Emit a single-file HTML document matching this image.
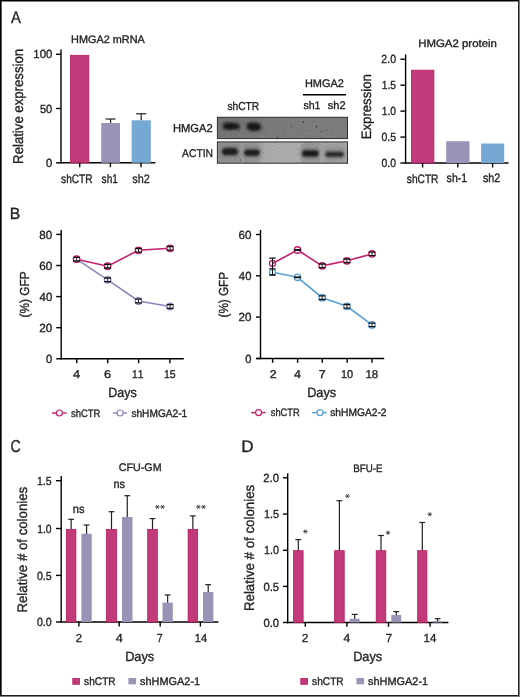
<!DOCTYPE html>
<html><head><meta charset="utf-8"><style>
html,body{margin:0;padding:0;background:#fff;}
svg{display:block;will-change:transform;}
text{font-family:"Liberation Sans",sans-serif;font-kerning:none;text-rendering:geometricPrecision;}
</style></head><body>
<svg width="520" height="697" viewBox="0 0 520 697">
<rect width="520" height="697" fill="#fff"/>
<text x="10.97" y="23.10" font-size="16.86" textLength="9.86" lengthAdjust="spacingAndGlyphs" fill="#231f20" stroke="#231f20" stroke-width="0.35">A</text>
<text x="71.11" y="42.50" font-size="10.90" textLength="73.71" lengthAdjust="spacingAndGlyphs" fill="#231f20" stroke="#231f20" stroke-width="0.35">HMGA2 mRNA</text>
<line x1="61.00" y1="49.60" x2="61.00" y2="163.50" stroke="#000" stroke-width="1.4"/>
<line x1="60.30" y1="162.80" x2="155.40" y2="162.80" stroke="#000" stroke-width="1.4"/>
<line x1="56.00" y1="54.30" x2="61.00" y2="54.30" stroke="#000" stroke-width="1.4"/>
<text x="33.33" y="58.40" font-size="11.77" textLength="19.01" lengthAdjust="spacingAndGlyphs" fill="#231f20" stroke="#231f20" stroke-width="0.35">100</text>
<line x1="56.00" y1="108.50" x2="61.00" y2="108.50" stroke="#000" stroke-width="1.4"/>
<text x="39.95" y="112.60" font-size="11.77" textLength="12.38" lengthAdjust="spacingAndGlyphs" fill="#231f20" stroke="#231f20" stroke-width="0.35">50</text>
<line x1="56.00" y1="162.80" x2="61.00" y2="162.80" stroke="#000" stroke-width="1.4"/>
<text x="46.12" y="166.90" font-size="11.77" textLength="6.22" lengthAdjust="spacingAndGlyphs" fill="#231f20" stroke="#231f20" stroke-width="0.35">0</text>
<rect x="70.40" y="55.30" width="18.40" height="107.50" fill="#c13a7a" stroke="#b8185f" stroke-width="0.8"/>
<rect x="101.20" y="123.00" width="18.80" height="39.80" fill="#9b93b6"/>
<rect x="131.60" y="120.30" width="19.20" height="42.50" fill="#75a8d2"/>
<line x1="110.60" y1="119.00" x2="110.60" y2="123.00" stroke="#231f20" stroke-width="1.2"/>
<line x1="105.65" y1="119.00" x2="115.55" y2="119.00" stroke="#231f20" stroke-width="1.2"/>
<line x1="141.20" y1="113.80" x2="141.20" y2="120.30" stroke="#231f20" stroke-width="1.2"/>
<line x1="136.15" y1="113.80" x2="146.25" y2="113.80" stroke="#231f20" stroke-width="1.2"/>
<line x1="79.70" y1="162.80" x2="79.70" y2="167.20" stroke="#000" stroke-width="1.4"/>
<line x1="110.40" y1="162.80" x2="110.40" y2="167.20" stroke="#000" stroke-width="1.4"/>
<line x1="141.00" y1="162.80" x2="141.00" y2="167.20" stroke="#000" stroke-width="1.4"/>
<text x="61.12" y="182.80" font-size="12.35" textLength="31.45" lengthAdjust="spacingAndGlyphs" fill="#231f20" stroke="#231f20" stroke-width="0.35">shCTR</text>
<text x="101.62" y="182.70" font-size="12.35" textLength="16.38" lengthAdjust="spacingAndGlyphs" fill="#231f20" stroke="#231f20" stroke-width="0.35">sh1</text>
<text x="132.30" y="182.70" font-size="12.35" textLength="17.45" lengthAdjust="spacingAndGlyphs" fill="#231f20" stroke="#231f20" stroke-width="0.35">sh2</text>
<text transform="translate(22.80,162.80) rotate(-90)" x="-1.08" y="0.00" font-size="14.24" textLength="114.94" lengthAdjust="spacingAndGlyphs" fill="#231f20" stroke="#231f20" stroke-width="0.35">Relative expression</text>
<defs>
<filter id="bl1" x="-50%" y="-50%" width="200%" height="200%"><feGaussianBlur stdDeviation="0.9"/></filter>
<filter id="bl4" x="-50%" y="-50%" width="200%" height="200%"><feGaussianBlur stdDeviation="1.6"/></filter>
<filter id="bl2" x="-50%" y="-50%" width="200%" height="200%"><feGaussianBlur stdDeviation="2.2"/></filter>
<filter id="bl3" x="-50%" y="-50%" width="200%" height="200%"><feGaussianBlur stdDeviation="0.5"/></filter>
<filter id="noise" x="0" y="0" width="100%" height="100%"><feTurbulence type="fractalNoise" baseFrequency="0.9" numOctaves="2" seed="3"/><feColorMatrix type="matrix" values="0 0 0 0 0  0 0 0 0 0  0 0 0 0 0  0 0 0 -1.2 0.75"/></filter>
<clipPath id="cup"><rect x="217.4" y="117.3" width="130.1" height="21.3"/></clipPath>
<clipPath id="clo"><rect x="217.4" y="141.9" width="130.1" height="21.3"/></clipPath>
<linearGradient id="upbg" x1="0" x2="1" y1="0" y2="0">
<stop offset="0" stop-color="#7a7a7a"/><stop offset="0.4" stop-color="#7e7e7e"/><stop offset="1" stop-color="#808080"/>
</linearGradient>
<linearGradient id="lowbg" x1="0" x2="1" y1="0" y2="0">
<stop offset="0" stop-color="#979797"/><stop offset="0.17" stop-color="#9a9a9a"/><stop offset="0.19" stop-color="#a2a2a2"/><stop offset="0.215" stop-color="#9a9a9a"/><stop offset="0.30" stop-color="#9c9c9c"/><stop offset="0.35" stop-color="#afafaf"/><stop offset="0.63" stop-color="#b1b1b1"/><stop offset="0.66" stop-color="#a0a0a0"/><stop offset="0.78" stop-color="#a2a2a2"/><stop offset="0.805" stop-color="#afafaf"/><stop offset="0.84" stop-color="#a8a8a8"/><stop offset="1" stop-color="#aaaaaa"/>
</linearGradient>
</defs>
<rect x="217.4" y="117.3" width="130.1" height="21.3" fill="url(#upbg)"/>
<rect x="217.4" y="141.9" width="130.1" height="21.3" fill="url(#lowbg)"/>
<g clip-path="url(#cup)"><g filter="url(#bl2)" fill="#6a6a6a" opacity="0.5">
<rect x="221" y="120" width="20" height="11"/><rect x="245" y="120" width="17" height="12"/>
</g></g>
<g clip-path="url(#clo)"><g filter="url(#bl2)" fill="#7a7a7a" opacity="0.45">
<rect x="220" y="145" width="19" height="14"/><rect x="243" y="146" width="18" height="13"/><rect x="301" y="146" width="19" height="14"/><rect x="324" y="147" width="21" height="13"/>
</g></g>
<rect x="217.4" y="117.3" width="130.1" height="21.3" filter="url(#noise)" opacity="0.2"/>
<rect x="217.4" y="141.9" width="130.1" height="21.3" filter="url(#noise)" opacity="0.2"/>
<rect x="217.4" y="117.3" width="130.1" height="21.3" fill="none" stroke="#2e2e2e" stroke-width="1"/>
<rect x="217.4" y="141.9" width="130.1" height="21.3" fill="none" stroke="#2e2e2e" stroke-width="1"/>
<g filter="url(#bl4)" opacity="0.55">
<rect x="222" y="122.5" width="18" height="7.5" rx="3.5" fill="#333"/>
<rect x="246.5" y="122.5" width="15" height="8.5" rx="4" fill="#333"/>
<rect x="221.5" y="147.5" width="17" height="8" rx="3.5" fill="#444"/>
<rect x="243.8" y="149" width="16.5" height="7" rx="3.5" fill="#444"/>
<rect x="301.5" y="149.8" width="17.5" height="7.4" rx="3.5" fill="#444"/>
<rect x="325" y="151.2" width="19" height="6" rx="3" fill="#555"/>
</g>
<g filter="url(#bl1)">
<path d="M223.6 126.2 C223.6 122.6 229 123.0 233 123.4 C237.5 123.8 239.3 125 239.3 126.6 C239.3 128.5 236 129.3 231 129.2 C226 129.1 223.6 128.5 223.6 126.2Z" fill="#131313"/>
<path d="M247.2 126 C247.2 122.8 252 122.7 255 123.2 C258.8 123.8 260.5 125.4 260.5 127.1 C260.5 129.6 257 130.8 253.5 130.4 C249.5 130 247.2 128.6 247.2 126Z" fill="#131313"/>
<rect x="222.4" y="148.4" width="15.0" height="6.4" rx="3" fill="#1a1a1a"/>
<rect x="244.6" y="150.0" width="14.7" height="5.4" rx="2.6" fill="#1a1a1a"/>
<rect x="302.4" y="150.8" width="15.8" height="5.4" rx="2.6" fill="#181818"/>
<rect x="325.8" y="152.2" width="17.6" height="4.2" rx="2" fill="#262626"/>
</g>
<g filter="url(#bl3)" fill="#222">
<circle cx="303.3" cy="121.9" r="0.7"/>
<circle cx="316.5" cy="126.5" r="0.65"/>
<circle cx="320.2" cy="131.2" r="0.45"/>
<circle cx="326.7" cy="130.2" r="0.45"/>
<circle cx="291.6" cy="126.3" r="0.45"/>
<circle cx="321.7" cy="138.2" r="0.55"/>
<circle cx="238.8" cy="130.6" r="0.5"/>
<circle cx="263.1" cy="128.1" r="0.35"/>
<circle cx="283.5" cy="129.8" r="0.45"/>
<circle cx="277.5" cy="137.9" r="0.6"/>
<circle cx="240.3" cy="160.0" r="0.6"/>
<circle cx="227" cy="130.5" r="0.4"/>
</g>
<text x="172.98" y="131.90" font-size="11.48" textLength="39.78" lengthAdjust="spacingAndGlyphs" fill="#231f20" stroke="#231f20" stroke-width="0.35">HMGA2</text>
<text x="182.08" y="156.80" font-size="11.34" textLength="30.96" lengthAdjust="spacingAndGlyphs" fill="#231f20" stroke="#231f20" stroke-width="0.35">ACTIN</text>
<text x="227.52" y="109.80" font-size="11.48" textLength="31.55" lengthAdjust="spacingAndGlyphs" fill="#231f20" stroke="#231f20" stroke-width="0.35">shCTR</text>
<text x="304.90" y="87.00" font-size="11.05" textLength="38.95" lengthAdjust="spacingAndGlyphs" fill="#231f20" stroke="#231f20" stroke-width="0.35">HMGA2</text>
<line x1="302.90" y1="94.80" x2="346.00" y2="94.80" stroke="#000" stroke-width="1.5"/>
<text x="303.40" y="109.10" font-size="11.05" textLength="17.11" lengthAdjust="spacingAndGlyphs" fill="#231f20" stroke="#231f20" stroke-width="0.35">sh1</text>
<text x="327.79" y="109.10" font-size="11.05" textLength="17.97" lengthAdjust="spacingAndGlyphs" fill="#231f20" stroke="#231f20" stroke-width="0.35">sh2</text>
<text x="418.16" y="47.00" font-size="10.76" textLength="78.78" lengthAdjust="spacingAndGlyphs" fill="#231f20" stroke="#231f20" stroke-width="0.35">HMGA2 protein</text>
<line x1="405.60" y1="54.40" x2="405.60" y2="163.70" stroke="#000" stroke-width="1.4"/>
<line x1="404.90" y1="163.00" x2="508.50" y2="163.00" stroke="#000" stroke-width="1.4"/>
<line x1="400.40" y1="59.20" x2="405.60" y2="59.20" stroke="#000" stroke-width="1.4"/>
<text x="381.37" y="63.30" font-size="11.77" textLength="14.64" lengthAdjust="spacingAndGlyphs" fill="#231f20" stroke="#231f20" stroke-width="0.35">2.0</text>
<line x1="400.40" y1="85.20" x2="405.60" y2="85.20" stroke="#000" stroke-width="1.4"/>
<text x="381.82" y="89.30" font-size="11.77" textLength="14.21" lengthAdjust="spacingAndGlyphs" fill="#231f20" stroke="#231f20" stroke-width="0.35">1.5</text>
<line x1="400.40" y1="111.10" x2="405.60" y2="111.10" stroke="#000" stroke-width="1.4"/>
<text x="381.82" y="115.20" font-size="11.77" textLength="14.18" lengthAdjust="spacingAndGlyphs" fill="#231f20" stroke="#231f20" stroke-width="0.35">1.0</text>
<line x1="400.40" y1="137.10" x2="405.60" y2="137.10" stroke="#000" stroke-width="1.4"/>
<text x="381.49" y="141.20" font-size="11.77" textLength="14.55" lengthAdjust="spacingAndGlyphs" fill="#231f20" stroke="#231f20" stroke-width="0.35">0.5</text>
<line x1="400.40" y1="163.00" x2="405.60" y2="163.00" stroke="#000" stroke-width="1.4"/>
<text x="381.49" y="167.10" font-size="11.77" textLength="14.52" lengthAdjust="spacingAndGlyphs" fill="#231f20" stroke="#231f20" stroke-width="0.35">0.0</text>
<rect x="411.40" y="70.20" width="22.50" height="92.80" fill="#c13a7a" stroke="#b8185f" stroke-width="0.8"/>
<rect x="446.20" y="141.20" width="23.30" height="21.80" fill="#9b93b6"/>
<rect x="481.10" y="143.50" width="23.10" height="19.50" fill="#75a8d2"/>
<line x1="422.60" y1="163.00" x2="422.60" y2="167.50" stroke="#000" stroke-width="1.4"/>
<line x1="457.80" y1="163.00" x2="457.80" y2="167.50" stroke="#000" stroke-width="1.4"/>
<line x1="492.60" y1="163.00" x2="492.60" y2="167.50" stroke="#000" stroke-width="1.4"/>
<text x="406.82" y="182.60" font-size="12.21" textLength="31.66" lengthAdjust="spacingAndGlyphs" fill="#231f20" stroke="#231f20" stroke-width="0.35">shCTR</text>
<text x="446.61" y="182.40" font-size="12.21" textLength="20.51" lengthAdjust="spacingAndGlyphs" fill="#231f20" stroke="#231f20" stroke-width="0.35">sh-1</text>
<text x="482.90" y="182.40" font-size="12.21" textLength="17.45" lengthAdjust="spacingAndGlyphs" fill="#231f20" stroke="#231f20" stroke-width="0.35">sh2</text>
<text transform="translate(370.70,138.20) rotate(-90)" x="-1.08" y="0.00" font-size="13.66" textLength="65.14" lengthAdjust="spacingAndGlyphs" fill="#231f20" stroke="#231f20" stroke-width="0.35">Expression</text>
<text x="9.81" y="218.90" font-size="16.28" textLength="10.53" lengthAdjust="spacingAndGlyphs" fill="#231f20" stroke="#231f20" stroke-width="0.35">B</text>
<line x1="61.20" y1="229.90" x2="61.20" y2="359.50" stroke="#000" stroke-width="1.4"/>
<line x1="60.50" y1="358.80" x2="183.80" y2="358.80" stroke="#000" stroke-width="1.4"/>
<line x1="56.20" y1="234.40" x2="61.20" y2="234.40" stroke="#000" stroke-width="1.4"/>
<text x="39.29" y="238.50" font-size="11.77" textLength="12.96" lengthAdjust="spacingAndGlyphs" fill="#231f20" stroke="#231f20" stroke-width="0.35">80</text>
<line x1="56.20" y1="265.50" x2="61.20" y2="265.50" stroke="#000" stroke-width="1.4"/>
<text x="39.20" y="269.60" font-size="11.77" textLength="13.05" lengthAdjust="spacingAndGlyphs" fill="#231f20" stroke="#231f20" stroke-width="0.35">60</text>
<line x1="56.20" y1="296.60" x2="61.20" y2="296.60" stroke="#000" stroke-width="1.4"/>
<text x="39.54" y="300.70" font-size="11.77" textLength="12.71" lengthAdjust="spacingAndGlyphs" fill="#231f20" stroke="#231f20" stroke-width="0.35">40</text>
<line x1="56.20" y1="327.70" x2="61.20" y2="327.70" stroke="#000" stroke-width="1.4"/>
<text x="39.21" y="331.80" font-size="11.77" textLength="13.05" lengthAdjust="spacingAndGlyphs" fill="#231f20" stroke="#231f20" stroke-width="0.35">20</text>
<line x1="56.20" y1="358.80" x2="61.20" y2="358.80" stroke="#000" stroke-width="1.4"/>
<text x="46.02" y="362.90" font-size="11.77" textLength="6.22" lengthAdjust="spacingAndGlyphs" fill="#231f20" stroke="#231f20" stroke-width="0.35">0</text>
<line x1="76.70" y1="358.80" x2="76.70" y2="363.20" stroke="#000" stroke-width="1.4"/>
<text x="73.00" y="377.90" font-size="11.34" textLength="7.17" lengthAdjust="spacingAndGlyphs" fill="#231f20" stroke="#231f20" stroke-width="0.35">4</text>
<line x1="107.70" y1="358.80" x2="107.70" y2="363.20" stroke="#000" stroke-width="1.4"/>
<text x="103.90" y="377.90" font-size="11.34" textLength="7.11" lengthAdjust="spacingAndGlyphs" fill="#231f20" stroke="#231f20" stroke-width="0.35">6</text>
<line x1="138.60" y1="358.80" x2="138.60" y2="363.20" stroke="#000" stroke-width="1.4"/>
<text x="132.12" y="377.90" font-size="11.34" textLength="11.38" lengthAdjust="spacingAndGlyphs" fill="#231f20" stroke="#231f20" stroke-width="0.35">11</text>
<line x1="169.90" y1="358.80" x2="169.90" y2="363.20" stroke="#000" stroke-width="1.4"/>
<text x="164.00" y="377.90" font-size="11.34" textLength="11.64" lengthAdjust="spacingAndGlyphs" fill="#231f20" stroke="#231f20" stroke-width="0.35">15</text>
<text x="108.17" y="397.40" font-size="13.37" textLength="28.58" lengthAdjust="spacingAndGlyphs" fill="#231f20" stroke="#231f20" stroke-width="0.35">Days</text>
<text transform="translate(28.70,316.80) rotate(-90)" x="-0.74" y="0.00" font-size="13.08" textLength="46.16" lengthAdjust="spacingAndGlyphs" fill="#231f20" stroke="#231f20" stroke-width="0.35">(%) GFP</text>
<polyline points="76.6,259.2 107.6,279.8 138.5,301.0 170.1,306.5" fill="none" stroke="#8d85bd" stroke-width="1.6"/>
<polyline points="76.6,259.2 107.6,266.2 138.5,250.3 170.1,248.3" fill="none" stroke="#c41f6d" stroke-width="1.6"/>
<circle cx="107.60" cy="279.80" r="3.2" fill="#fff" stroke="#8d85bd" stroke-width="1.4"/>
<path d="M104.20 278.00H111.00M104.20 281.60H111.00" stroke="#111" stroke-width="1.3" fill="none"/>
<path d="M107.60 278.00V281.60" stroke="#222" stroke-width="1.0" fill="none"/>
<circle cx="138.50" cy="301.00" r="3.2" fill="#fff" stroke="#8d85bd" stroke-width="1.4"/>
<path d="M135.10 299.20H141.90M135.10 302.80H141.90" stroke="#111" stroke-width="1.3" fill="none"/>
<path d="M138.50 299.20V302.80" stroke="#222" stroke-width="1.0" fill="none"/>
<circle cx="170.10" cy="306.50" r="3.2" fill="#fff" stroke="#8d85bd" stroke-width="1.4"/>
<path d="M166.70 304.70H173.50M166.70 308.30H173.50" stroke="#111" stroke-width="1.3" fill="none"/>
<path d="M170.10 304.70V308.30" stroke="#222" stroke-width="1.0" fill="none"/>
<circle cx="76.60" cy="259.20" r="3.2" fill="#fff" stroke="#c41f6d" stroke-width="1.4"/>
<path d="M73.20 257.40H80.00M73.20 261.00H80.00" stroke="#111" stroke-width="1.3" fill="none"/>
<path d="M76.60 257.40V261.00" stroke="#222" stroke-width="1.0" fill="none"/>
<circle cx="107.60" cy="266.20" r="3.2" fill="#fff" stroke="#c41f6d" stroke-width="1.4"/>
<path d="M104.20 264.40H111.00M104.20 268.00H111.00" stroke="#111" stroke-width="1.3" fill="none"/>
<path d="M107.60 264.40V268.00" stroke="#222" stroke-width="1.0" fill="none"/>
<circle cx="138.50" cy="250.30" r="3.2" fill="#fff" stroke="#c41f6d" stroke-width="1.4"/>
<path d="M135.10 248.50H141.90M135.10 252.10H141.90" stroke="#111" stroke-width="1.3" fill="none"/>
<path d="M138.50 248.50V252.10" stroke="#222" stroke-width="1.0" fill="none"/>
<circle cx="170.10" cy="248.30" r="3.2" fill="#fff" stroke="#c41f6d" stroke-width="1.4"/>
<path d="M166.70 246.50H173.50M166.70 250.10H173.50" stroke="#111" stroke-width="1.3" fill="none"/>
<path d="M170.10 246.50V250.10" stroke="#222" stroke-width="1.0" fill="none"/>
<line x1="51.90" y1="413.00" x2="66.60" y2="413.00" stroke="#c41f6d" stroke-width="1.45"/>
<circle cx="59.4" cy="413.0" r="3.0" fill="#fff" stroke="#c41f6d" stroke-width="1.2"/>
<text x="71.04" y="416.80" font-size="10.76" textLength="29.40" lengthAdjust="spacingAndGlyphs" fill="#231f20" stroke="#231f20" stroke-width="0.35">shCTR</text>
<line x1="112.80" y1="413.00" x2="127.10" y2="413.00" stroke="#8d85bd" stroke-width="1.45"/>
<circle cx="120.1" cy="413.0" r="3.0" fill="#fff" stroke="#8d85bd" stroke-width="1.2"/>
<text x="131.42" y="416.80" font-size="10.76" textLength="55.78" lengthAdjust="spacingAndGlyphs" fill="#231f20" stroke="#231f20" stroke-width="0.35">shHMGA2-1</text>
<line x1="260.50" y1="229.90" x2="260.50" y2="359.20" stroke="#000" stroke-width="1.4"/>
<line x1="256.00" y1="358.50" x2="384.20" y2="358.50" stroke="#000" stroke-width="1.4"/>
<line x1="256.00" y1="234.50" x2="260.50" y2="234.50" stroke="#000" stroke-width="1.4"/>
<text x="238.51" y="238.60" font-size="11.77" textLength="12.95" lengthAdjust="spacingAndGlyphs" fill="#231f20" stroke="#231f20" stroke-width="0.35">60</text>
<line x1="256.00" y1="275.80" x2="260.50" y2="275.80" stroke="#000" stroke-width="1.4"/>
<text x="238.84" y="279.90" font-size="11.77" textLength="12.60" lengthAdjust="spacingAndGlyphs" fill="#231f20" stroke="#231f20" stroke-width="0.35">40</text>
<line x1="256.00" y1="317.10" x2="260.50" y2="317.10" stroke="#000" stroke-width="1.4"/>
<text x="238.51" y="321.20" font-size="11.77" textLength="12.94" lengthAdjust="spacingAndGlyphs" fill="#231f20" stroke="#231f20" stroke-width="0.35">20</text>
<line x1="256.00" y1="358.50" x2="260.50" y2="358.50" stroke="#000" stroke-width="1.4"/>
<text x="245.22" y="362.60" font-size="11.77" textLength="6.22" lengthAdjust="spacingAndGlyphs" fill="#231f20" stroke="#231f20" stroke-width="0.35">0</text>
<line x1="272.60" y1="358.50" x2="272.60" y2="362.80" stroke="#000" stroke-width="1.4"/>
<text x="269.87" y="378.00" font-size="11.34" textLength="6.96" lengthAdjust="spacingAndGlyphs" fill="#231f20" stroke="#231f20" stroke-width="0.35">2</text>
<line x1="297.60" y1="358.50" x2="297.60" y2="362.80" stroke="#000" stroke-width="1.4"/>
<text x="294.01" y="378.00" font-size="11.34" textLength="6.95" lengthAdjust="spacingAndGlyphs" fill="#231f20" stroke="#231f20" stroke-width="0.35">4</text>
<line x1="322.30" y1="358.50" x2="322.30" y2="362.80" stroke="#000" stroke-width="1.4"/>
<text x="318.86" y="378.00" font-size="11.34" textLength="6.97" lengthAdjust="spacingAndGlyphs" fill="#231f20" stroke="#231f20" stroke-width="0.35">7</text>
<line x1="347.20" y1="358.50" x2="347.20" y2="362.80" stroke="#000" stroke-width="1.4"/>
<text x="340.97" y="378.00" font-size="11.34" textLength="12.16" lengthAdjust="spacingAndGlyphs" fill="#231f20" stroke="#231f20" stroke-width="0.35">10</text>
<line x1="372.00" y1="358.50" x2="372.00" y2="362.80" stroke="#000" stroke-width="1.4"/>
<text x="365.42" y="378.00" font-size="11.34" textLength="12.89" lengthAdjust="spacingAndGlyphs" fill="#231f20" stroke="#231f20" stroke-width="0.35">18</text>
<text x="307.15" y="397.20" font-size="13.37" textLength="29.11" lengthAdjust="spacingAndGlyphs" fill="#231f20" stroke="#231f20" stroke-width="0.35">Days</text>
<text transform="translate(228.30,316.70) rotate(-90)" x="-0.72" y="0.00" font-size="13.08" textLength="45.44" lengthAdjust="spacingAndGlyphs" fill="#231f20" stroke="#231f20" stroke-width="0.35">(%) GFP</text>
<polyline points="272.5,272.3 297.5,277.3 322.2,297.7 346.9,306.3 372.0,324.9" fill="none" stroke="#5a9fd6" stroke-width="1.6"/>
<polyline points="272.5,263.5 297.5,250.0 322.2,265.8 346.9,260.8 372.0,253.9" fill="none" stroke="#c41f6d" stroke-width="1.6"/>
<circle cx="322.20" cy="297.70" r="3.2" fill="#fff" stroke="#5a9fd6" stroke-width="1.4"/>
<path d="M318.80 295.90H325.60M318.80 299.50H325.60" stroke="#111" stroke-width="1.3" fill="none"/>
<path d="M322.20 295.90V299.50" stroke="#222" stroke-width="1.0" fill="none"/>
<circle cx="346.90" cy="306.30" r="3.2" fill="#fff" stroke="#5a9fd6" stroke-width="1.4"/>
<path d="M343.50 304.50H350.30M343.50 308.10H350.30" stroke="#111" stroke-width="1.3" fill="none"/>
<path d="M346.90 304.50V308.10" stroke="#222" stroke-width="1.0" fill="none"/>
<circle cx="372.00" cy="324.90" r="3.2" fill="#fff" stroke="#5a9fd6" stroke-width="1.4"/>
<path d="M368.60 323.10H375.40M368.60 326.70H375.40" stroke="#111" stroke-width="1.3" fill="none"/>
<path d="M372.00 323.10V326.70" stroke="#222" stroke-width="1.0" fill="none"/>
<circle cx="322.20" cy="265.80" r="3.2" fill="#fff" stroke="#c41f6d" stroke-width="1.4"/>
<path d="M318.80 264.00H325.60M318.80 267.60H325.60" stroke="#111" stroke-width="1.3" fill="none"/>
<path d="M322.20 264.00V267.60" stroke="#222" stroke-width="1.0" fill="none"/>
<circle cx="346.90" cy="260.80" r="3.2" fill="#fff" stroke="#c41f6d" stroke-width="1.4"/>
<path d="M343.50 259.00H350.30M343.50 262.60H350.30" stroke="#111" stroke-width="1.3" fill="none"/>
<path d="M346.90 259.00V262.60" stroke="#222" stroke-width="1.0" fill="none"/>
<circle cx="372.00" cy="253.90" r="3.2" fill="#fff" stroke="#c41f6d" stroke-width="1.4"/>
<path d="M368.60 252.10H375.40M368.60 255.70H375.40" stroke="#111" stroke-width="1.3" fill="none"/>
<path d="M372.00 252.10V255.70" stroke="#222" stroke-width="1.0" fill="none"/>
<circle cx="297.50" cy="277.30" r="3.2" fill="#fff" stroke="#5a9fd6" stroke-width="1.4"/>
<rect x="294.10" y="276.35" width="6.80" height="1.9" fill="#111"/>
<circle cx="297.50" cy="250.00" r="3.2" fill="#fff" stroke="#c41f6d" stroke-width="1.4"/>
<rect x="294.10" y="249.05" width="6.80" height="1.9" fill="#111"/>
<circle cx="272.5" cy="272.3" r="3.0" fill="#fff" stroke="#5a9fd6" stroke-width="1.3"/>
<circle cx="272.5" cy="263.5" r="3.0" fill="none" stroke="#c41f6d" stroke-width="1.3"/>
<path d="M269.3 258.2H275.7M269.3 268.9H275.7M269.3 275H275.7" stroke="#111" stroke-width="1.3" fill="none"/>
<path d="M272.5 258.2V275" stroke="#111" stroke-width="1.0" fill="none"/>
<line x1="251.10" y1="412.60" x2="265.70" y2="412.60" stroke="#c41f6d" stroke-width="1.45"/>
<circle cx="258.6" cy="412.6" r="3.0" fill="#fff" stroke="#c41f6d" stroke-width="1.2"/>
<text x="270.74" y="416.40" font-size="10.76" textLength="28.99" lengthAdjust="spacingAndGlyphs" fill="#231f20" stroke="#231f20" stroke-width="0.35">shCTR</text>
<line x1="311.90" y1="412.60" x2="326.60" y2="412.60" stroke="#5a9fd6" stroke-width="1.45"/>
<circle cx="320.0" cy="412.6" r="3.0" fill="#fff" stroke="#5a9fd6" stroke-width="1.2"/>
<text x="330.22" y="416.40" font-size="10.76" textLength="56.30" lengthAdjust="spacingAndGlyphs" fill="#231f20" stroke="#231f20" stroke-width="0.35">shHMGA2-2</text>
<text x="10.38" y="452.30" font-size="17.15" textLength="10.26" lengthAdjust="spacingAndGlyphs" fill="#231f20" stroke="#231f20" stroke-width="0.35">C</text>
<text x="118.76" y="471.40" font-size="11.05" textLength="42.82" lengthAdjust="spacingAndGlyphs" fill="#231f20" stroke="#231f20" stroke-width="0.35">CFU-GM</text>
<line x1="61.20" y1="476.00" x2="61.20" y2="622.70" stroke="#000" stroke-width="1.4"/>
<line x1="60.50" y1="622.00" x2="218.40" y2="622.00" stroke="#000" stroke-width="1.4"/>
<line x1="56.00" y1="480.70" x2="61.20" y2="480.70" stroke="#000" stroke-width="1.4"/>
<text x="37.00" y="484.80" font-size="11.77" textLength="14.64" lengthAdjust="spacingAndGlyphs" fill="#231f20" stroke="#231f20" stroke-width="0.35">1.5</text>
<line x1="56.00" y1="528.50" x2="61.20" y2="528.50" stroke="#000" stroke-width="1.4"/>
<text x="37.21" y="532.60" font-size="11.77" textLength="14.39" lengthAdjust="spacingAndGlyphs" fill="#231f20" stroke="#231f20" stroke-width="0.35">1.0</text>
<line x1="56.00" y1="575.40" x2="61.20" y2="575.40" stroke="#000" stroke-width="1.4"/>
<text x="36.89" y="579.50" font-size="11.77" textLength="14.76" lengthAdjust="spacingAndGlyphs" fill="#231f20" stroke="#231f20" stroke-width="0.35">0.5</text>
<line x1="56.00" y1="622.00" x2="61.20" y2="622.00" stroke="#000" stroke-width="1.4"/>
<text x="36.89" y="626.10" font-size="11.77" textLength="14.73" lengthAdjust="spacingAndGlyphs" fill="#231f20" stroke="#231f20" stroke-width="0.35">0.0</text>
<line x1="71.15" y1="519.30" x2="71.15" y2="530.00" stroke="#231f20" stroke-width="1.2"/>
<line x1="68.25" y1="519.30" x2="74.05" y2="519.30" stroke="#231f20" stroke-width="1.2"/>
<rect x="66.40" y="529.40" width="9.50" height="92.60" fill="#c13a7a" stroke="#b8185f" stroke-width="0.8"/>
<line x1="86.55" y1="525.00" x2="86.55" y2="534.80" stroke="#231f20" stroke-width="1.2"/>
<line x1="83.65" y1="525.00" x2="89.45" y2="525.00" stroke="#231f20" stroke-width="1.2"/>
<rect x="81.40" y="533.80" width="10.30" height="88.20" fill="#9b93b6"/>
<line x1="111.50" y1="511.70" x2="111.50" y2="530.00" stroke="#231f20" stroke-width="1.2"/>
<line x1="108.60" y1="511.70" x2="114.40" y2="511.70" stroke="#231f20" stroke-width="1.2"/>
<rect x="106.50" y="529.40" width="10.00" height="92.60" fill="#c13a7a" stroke="#b8185f" stroke-width="0.8"/>
<line x1="127.25" y1="495.70" x2="127.25" y2="518.00" stroke="#231f20" stroke-width="1.2"/>
<line x1="124.35" y1="495.70" x2="130.15" y2="495.70" stroke="#231f20" stroke-width="1.2"/>
<rect x="122.00" y="517.00" width="10.50" height="105.00" fill="#9b93b6"/>
<line x1="152.50" y1="518.60" x2="152.50" y2="530.00" stroke="#231f20" stroke-width="1.2"/>
<line x1="149.60" y1="518.60" x2="155.40" y2="518.60" stroke="#231f20" stroke-width="1.2"/>
<rect x="147.70" y="529.40" width="9.60" height="92.60" fill="#c13a7a" stroke="#b8185f" stroke-width="0.8"/>
<line x1="167.65" y1="595.00" x2="167.65" y2="603.60" stroke="#231f20" stroke-width="1.2"/>
<line x1="164.75" y1="595.00" x2="170.55" y2="595.00" stroke="#231f20" stroke-width="1.2"/>
<rect x="162.50" y="602.60" width="10.30" height="19.40" fill="#9b93b6"/>
<line x1="192.85" y1="515.90" x2="192.85" y2="530.00" stroke="#231f20" stroke-width="1.2"/>
<line x1="189.95" y1="515.90" x2="195.75" y2="515.90" stroke="#231f20" stroke-width="1.2"/>
<rect x="188.10" y="529.40" width="9.50" height="92.60" fill="#c13a7a" stroke="#b8185f" stroke-width="0.8"/>
<line x1="208.20" y1="584.70" x2="208.20" y2="593.00" stroke="#231f20" stroke-width="1.2"/>
<line x1="205.30" y1="584.70" x2="211.10" y2="584.70" stroke="#231f20" stroke-width="1.2"/>
<rect x="203.00" y="592.00" width="10.40" height="30.00" fill="#9b93b6"/>
<line x1="78.90" y1="622.00" x2="78.90" y2="626.50" stroke="#000" stroke-width="1.4"/>
<text x="75.73" y="641.80" font-size="11.63" textLength="6.35" lengthAdjust="spacingAndGlyphs" fill="#231f20" stroke="#231f20" stroke-width="0.35">2</text>
<line x1="119.20" y1="622.00" x2="119.20" y2="626.50" stroke="#000" stroke-width="1.4"/>
<text x="115.81" y="641.80" font-size="11.63" textLength="7.06" lengthAdjust="spacingAndGlyphs" fill="#231f20" stroke="#231f20" stroke-width="0.35">4</text>
<line x1="160.20" y1="622.00" x2="160.20" y2="626.50" stroke="#000" stroke-width="1.4"/>
<text x="156.98" y="641.80" font-size="11.63" textLength="5.63" lengthAdjust="spacingAndGlyphs" fill="#231f20" stroke="#231f20" stroke-width="0.35">7</text>
<line x1="200.40" y1="622.00" x2="200.40" y2="626.50" stroke="#000" stroke-width="1.4"/>
<text x="194.75" y="641.80" font-size="11.63" textLength="12.37" lengthAdjust="spacingAndGlyphs" fill="#231f20" stroke="#231f20" stroke-width="0.35">14</text>
<text x="125.15" y="661.30" font-size="13.37" textLength="29.11" lengthAdjust="spacingAndGlyphs" fill="#231f20" stroke="#231f20" stroke-width="0.35">Days</text>
<text x="72.86" y="512.80" font-size="11.92" textLength="11.74" lengthAdjust="spacingAndGlyphs" fill="#231f20" stroke="#231f20" stroke-width="0.35">ns</text>
<text x="113.38" y="487.80" font-size="11.92" textLength="11.52" lengthAdjust="spacingAndGlyphs" fill="#231f20" stroke="#231f20" stroke-width="0.35">ns</text>
<path d="M155.10 506.90L159.70 506.90M156.25 504.91L158.55 508.89M158.55 504.91L156.25 508.89" stroke="#231f20" stroke-width="0.75" fill="none"/>
<path d="M160.20 506.90L164.80 506.90M161.35 504.91L163.65 508.89M163.65 504.91L161.35 508.89" stroke="#231f20" stroke-width="0.75" fill="none"/>
<path d="M196.10 506.90L200.70 506.90M197.25 504.91L199.55 508.89M199.55 504.91L197.25 508.89" stroke="#231f20" stroke-width="0.75" fill="none"/>
<path d="M201.20 506.90L205.80 506.90M202.35 504.91L204.65 508.89M204.65 504.91L202.35 508.89" stroke="#231f20" stroke-width="0.75" fill="none"/>
<text transform="translate(27.00,611.50) rotate(-90)" x="-1.09" y="0.00" font-size="13.81" textLength="125.76" lengthAdjust="spacingAndGlyphs" fill="#231f20" stroke="#231f20" stroke-width="0.35">Relative # of colonies</text>
<rect x="72.80" y="678.40" width="6.70" height="5.90" fill="#c13a7a" stroke="#b8185f" stroke-width="0.8"/>
<text x="84.12" y="684.80" font-size="11.05" textLength="31.55" lengthAdjust="spacingAndGlyphs" fill="#231f20" stroke="#231f20" stroke-width="0.35">shCTR</text>
<rect x="128.40" y="678.00" width="7.70" height="6.30" fill="#9b93b6"/>
<text x="140.10" y="684.70" font-size="11.05" textLength="60.04" lengthAdjust="spacingAndGlyphs" fill="#231f20" stroke="#231f20" stroke-width="0.35">shHMGA2-1</text>
<text x="241.30" y="452.20" font-size="16.57" textLength="12.31" lengthAdjust="spacingAndGlyphs" fill="#231f20" stroke="#231f20" stroke-width="0.35">D</text>
<text x="353.20" y="471.90" font-size="11.05" textLength="29.22" lengthAdjust="spacingAndGlyphs" fill="#231f20" stroke="#231f20" stroke-width="0.35">BFU-E</text>
<line x1="287.70" y1="473.20" x2="287.70" y2="623.20" stroke="#000" stroke-width="1.4"/>
<line x1="287.00" y1="622.50" x2="448.40" y2="622.50" stroke="#000" stroke-width="1.4"/>
<line x1="283.00" y1="477.80" x2="287.70" y2="477.80" stroke="#000" stroke-width="1.4"/>
<text x="263.33" y="481.90" font-size="11.77" textLength="15.71" lengthAdjust="spacingAndGlyphs" fill="#231f20" stroke="#231f20" stroke-width="0.35">2.0</text>
<line x1="283.00" y1="514.10" x2="287.70" y2="514.10" stroke="#000" stroke-width="1.4"/>
<text x="263.97" y="518.20" font-size="11.77" textLength="15.08" lengthAdjust="spacingAndGlyphs" fill="#231f20" stroke="#231f20" stroke-width="0.35">1.5</text>
<line x1="283.00" y1="550.30" x2="287.70" y2="550.30" stroke="#000" stroke-width="1.4"/>
<text x="263.98" y="554.40" font-size="11.77" textLength="15.05" lengthAdjust="spacingAndGlyphs" fill="#231f20" stroke="#231f20" stroke-width="0.35">1.0</text>
<line x1="283.00" y1="586.40" x2="287.70" y2="586.40" stroke="#000" stroke-width="1.4"/>
<text x="263.46" y="590.50" font-size="11.77" textLength="15.61" lengthAdjust="spacingAndGlyphs" fill="#231f20" stroke="#231f20" stroke-width="0.35">0.5</text>
<line x1="283.00" y1="622.50" x2="287.70" y2="622.50" stroke="#000" stroke-width="1.4"/>
<text x="263.46" y="626.60" font-size="11.77" textLength="15.58" lengthAdjust="spacingAndGlyphs" fill="#231f20" stroke="#231f20" stroke-width="0.35">0.0</text>
<line x1="298.30" y1="539.60" x2="298.30" y2="551.30" stroke="#231f20" stroke-width="1.2"/>
<line x1="295.40" y1="539.60" x2="301.20" y2="539.60" stroke="#231f20" stroke-width="1.2"/>
<rect x="293.50" y="550.70" width="9.60" height="71.80" fill="#c13a7a" stroke="#b8185f" stroke-width="0.8"/>
<line x1="339.40" y1="500.70" x2="339.40" y2="551.30" stroke="#231f20" stroke-width="1.2"/>
<line x1="336.50" y1="500.70" x2="342.30" y2="500.70" stroke="#231f20" stroke-width="1.2"/>
<rect x="334.60" y="550.70" width="9.60" height="71.80" fill="#c13a7a" stroke="#b8185f" stroke-width="0.8"/>
<line x1="354.65" y1="614.40" x2="354.65" y2="619.80" stroke="#231f20" stroke-width="1.2"/>
<line x1="351.75" y1="614.40" x2="357.55" y2="614.40" stroke="#231f20" stroke-width="1.2"/>
<rect x="349.70" y="618.80" width="9.90" height="3.70" fill="#9b93b6"/>
<line x1="381.00" y1="535.50" x2="381.00" y2="551.30" stroke="#231f20" stroke-width="1.2"/>
<line x1="378.10" y1="535.50" x2="383.90" y2="535.50" stroke="#231f20" stroke-width="1.2"/>
<rect x="376.20" y="550.70" width="9.60" height="71.80" fill="#c13a7a" stroke="#b8185f" stroke-width="0.8"/>
<line x1="396.25" y1="611.60" x2="396.25" y2="616.00" stroke="#231f20" stroke-width="1.2"/>
<line x1="393.35" y1="611.60" x2="399.15" y2="611.60" stroke="#231f20" stroke-width="1.2"/>
<rect x="391.30" y="615.00" width="9.90" height="7.50" fill="#9b93b6"/>
<line x1="422.30" y1="522.50" x2="422.30" y2="551.30" stroke="#231f20" stroke-width="1.2"/>
<line x1="419.40" y1="522.50" x2="425.20" y2="522.50" stroke="#231f20" stroke-width="1.2"/>
<rect x="417.70" y="550.70" width="9.20" height="71.80" fill="#c13a7a" stroke="#b8185f" stroke-width="0.8"/>
<line x1="437.60" y1="618.70" x2="437.60" y2="622.20" stroke="#231f20" stroke-width="1.2"/>
<line x1="434.70" y1="618.70" x2="440.50" y2="618.70" stroke="#231f20" stroke-width="1.2"/>
<rect x="432.50" y="621.20" width="10.20" height="1.30" fill="#9b93b6"/>
<line x1="305.30" y1="622.50" x2="305.30" y2="626.80" stroke="#000" stroke-width="1.4"/>
<text x="301.69" y="641.80" font-size="11.63" textLength="6.71" lengthAdjust="spacingAndGlyphs" fill="#231f20" stroke="#231f20" stroke-width="0.35">2</text>
<line x1="346.90" y1="622.50" x2="346.90" y2="626.80" stroke="#000" stroke-width="1.4"/>
<text x="343.62" y="641.80" font-size="11.63" textLength="6.73" lengthAdjust="spacingAndGlyphs" fill="#231f20" stroke="#231f20" stroke-width="0.35">4</text>
<line x1="388.50" y1="622.50" x2="388.50" y2="626.80" stroke="#000" stroke-width="1.4"/>
<text x="385.71" y="641.80" font-size="11.63" textLength="6.36" lengthAdjust="spacingAndGlyphs" fill="#231f20" stroke="#231f20" stroke-width="0.35">7</text>
<line x1="430.10" y1="622.50" x2="430.10" y2="626.80" stroke="#000" stroke-width="1.4"/>
<text x="423.52" y="641.80" font-size="11.63" textLength="12.82" lengthAdjust="spacingAndGlyphs" fill="#231f20" stroke="#231f20" stroke-width="0.35">14</text>
<text x="353.15" y="661.30" font-size="13.37" textLength="29.11" lengthAdjust="spacingAndGlyphs" fill="#231f20" stroke="#231f20" stroke-width="0.35">Days</text>
<path d="M303.10 531.50L307.70 531.50M304.25 529.51L306.55 533.49M306.55 529.51L304.25 533.49" stroke="#231f20" stroke-width="0.75" fill="none"/>
<path d="M345.20 496.10L349.80 496.10M346.35 494.11L348.65 498.09M348.65 494.11L346.35 498.09" stroke="#231f20" stroke-width="0.75" fill="none"/>
<path d="M385.70 532.80L390.30 532.80M386.85 530.81L389.15 534.79M389.15 530.81L386.85 534.79" stroke="#231f20" stroke-width="0.75" fill="none"/>
<path d="M427.50 514.30L432.10 514.30M428.65 512.31L430.95 516.29M430.95 512.31L428.65 516.29" stroke="#231f20" stroke-width="0.75" fill="none"/>
<text transform="translate(253.60,610.00) rotate(-90)" x="-1.09" y="0.00" font-size="13.81" textLength="126.27" lengthAdjust="spacingAndGlyphs" fill="#231f20" stroke="#231f20" stroke-width="0.35">Relative # of colonies</text>
<rect x="300.80" y="678.40" width="6.70" height="5.90" fill="#c13a7a" stroke="#b8185f" stroke-width="0.8"/>
<text x="312.12" y="684.80" font-size="11.05" textLength="31.55" lengthAdjust="spacingAndGlyphs" fill="#231f20" stroke="#231f20" stroke-width="0.35">shCTR</text>
<rect x="356.40" y="678.00" width="7.70" height="6.30" fill="#9b93b6"/>
<text x="368.10" y="684.70" font-size="11.05" textLength="60.04" lengthAdjust="spacingAndGlyphs" fill="#231f20" stroke="#231f20" stroke-width="0.35">shHMGA2-1</text>
<rect x="0" y="0" width="520" height="1" fill="#000"/>
<rect x="0" y="1" width="520" height="1" fill="#808080"/>
<rect x="1" y="0" width="1" height="697" fill="#5a5a5a"/>
<rect x="0" y="0" width="1" height="697" fill="#000"/>
<rect x="518" y="0" width="1" height="696" fill="#222"/>
<rect x="519" y="0" width="1" height="697" fill="#808080"/>
<rect x="0" y="695" width="519" height="1" fill="#1e1e1e"/>
<rect x="0" y="696" width="520" height="1" fill="#808080"/>
<rect x="0" y="0" width="2" height="1" fill="#000"/>
</svg>
</body></html>
